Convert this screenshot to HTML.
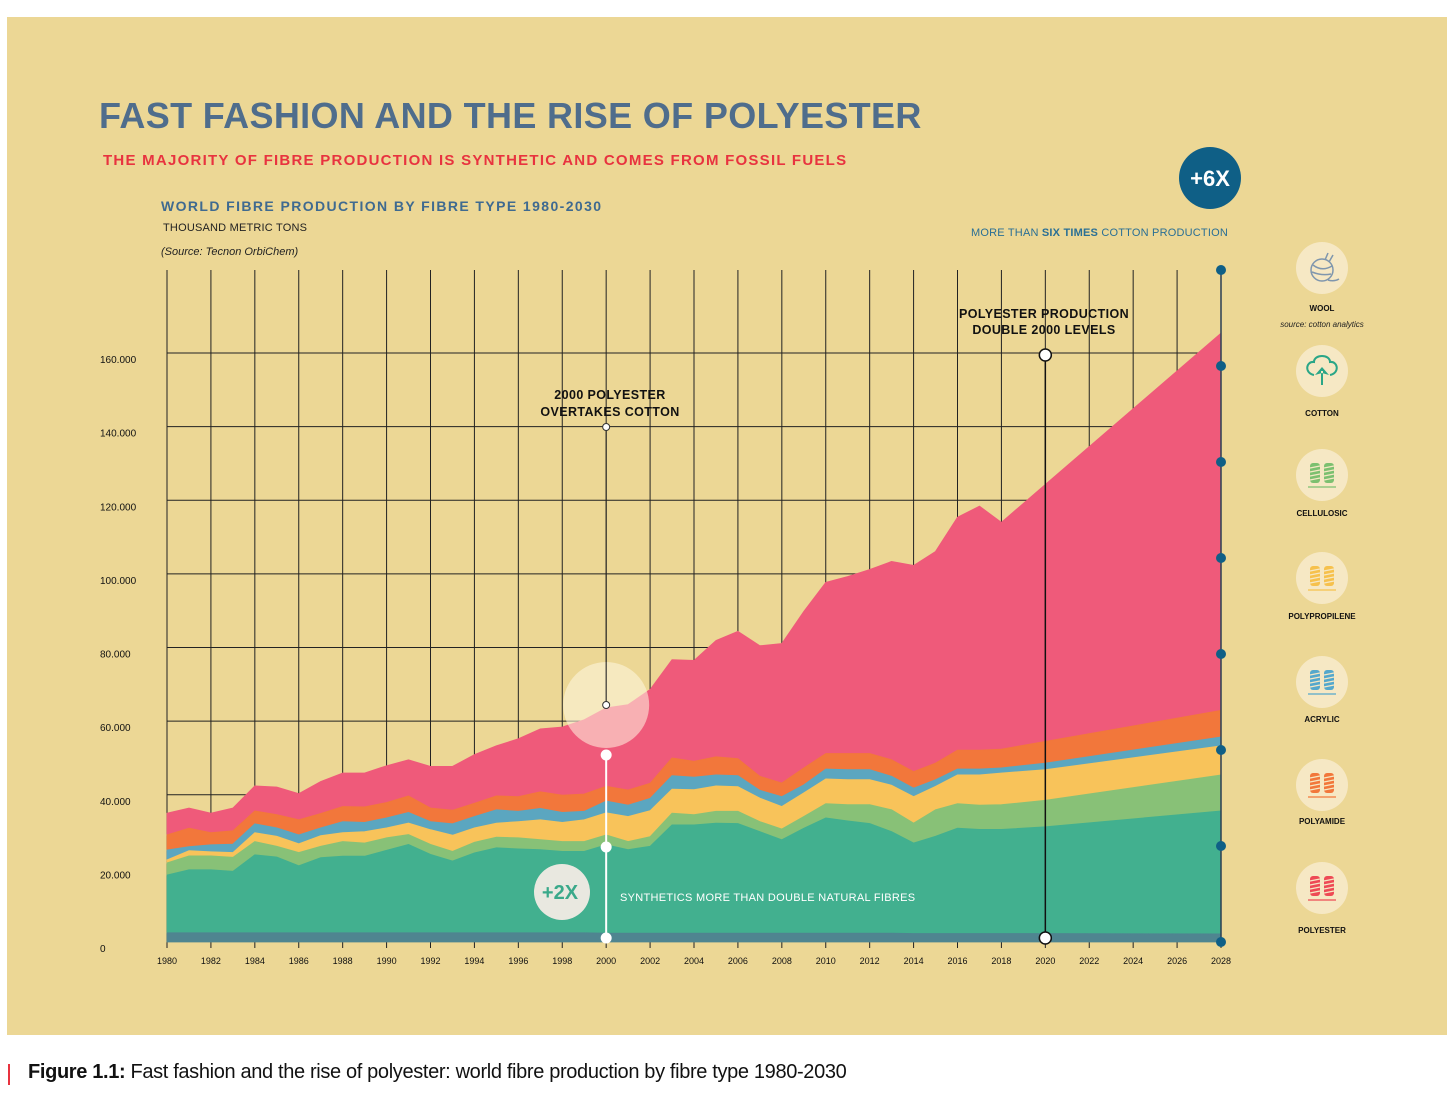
<!DOCTYPE html>
<html><head><meta charset="utf-8">
<style>
body{margin:0;width:1456px;height:1100px;background:#fff;font-family:"Liberation Sans",sans-serif;position:relative;overflow:hidden}
#panel{position:absolute;left:7px;top:17px;width:1440px;height:1018px;background:#ecd795}
.t{position:absolute;white-space:nowrap}
</style></head><body>
<div id="panel"></div>
<svg id="chart" width="1456" height="1100" style="position:absolute;left:0;top:0" font-family="Liberation Sans, sans-serif"></svg>
<div class="t" style="left:99px;top:95px;font-size:36px;font-weight:bold;color:#4f6d8c;letter-spacing:0.35px">FAST FASHION AND THE RISE OF POLYESTER</div>
<div class="t" style="left:103px;top:152px;font-size:15px;font-weight:bold;color:#e8333f;letter-spacing:1.25px">THE MAJORITY OF FIBRE PRODUCTION IS SYNTHETIC AND COMES FROM FOSSIL FUELS</div>
<div class="t" style="left:161px;top:198px;font-size:14px;font-weight:bold;color:#3f6a90;letter-spacing:1.4px">WORLD FIBRE PRODUCTION BY FIBRE TYPE 1980-2030</div>
<div class="t" style="left:163px;top:222px;font-size:11px;color:#222;letter-spacing:0.2px">THOUSAND METRIC TONS</div>
<div class="t" style="left:161px;top:246px;font-size:11px;font-style:italic;color:#222">(Source: Tecnon OrbiChem)</div>
<div class="t" style="right:228px;top:227px;font-size:11px;color:#2a6f95;letter-spacing:0.2px">MORE THAN <b>SIX TIMES</b> COTTON PRODUCTION</div>
<div class="t" style="left:8px;top:1064px;width:2px;height:21px;background:#e8333f"></div>
<div class="t" style="left:28px;top:1061px;font-size:20px;color:#111;letter-spacing:-0.35px"><b>Figure 1.1:</b> Fast fashion and the rise of polyester: world fibre production by fibre type 1980-2030</div>
<script>
// data: thousand metric tons, stacked tops
const years=[1980,1981,1982,1983,1984,1985,1986,1987,1988,1989,1990,1991,1992,1993,1994,1995,1996,1997,1998,1999,2000,2001,2002,2003,2004,2005,2006,2007,2008,2009,2010,2011,2012,2013,2014,2015,2016,2017,2018,2020,2028];
const woolTop=[2.5,2.5,2.5,2.5,2.5,2.5,2.5,2.5,2.5,2.5,2.5,2.5,2.5,2.5,2.5,2.5,2.5,2.5,2.5,2.5,2.4,2.4,2.4,2.4,2.4,2.4,2.4,2.4,2.4,2.4,2.4,2.4,2.4,2.4,2.3,2.3,2.3,2.3,2.3,2.3,2.2];
const cottonTop=[18.2,19.6,19.6,19.2,23.7,23.1,20.7,22.9,23.3,23.3,24.9,26.5,23.8,22.0,24.2,25.6,25.3,25.1,24.6,24.6,26.4,25.1,26.0,31.8,31.8,32.3,32.2,30.0,27.8,30.9,33.7,32.9,32.2,30.0,26.9,28.7,30.9,30.6,30.6,31.3,35.6];
const cellulosicTop=[21.5,23.4,23.4,23.0,27.3,26.0,24.3,26.0,27.3,26.9,28.3,29.2,26.5,24.6,27.1,28.5,28.3,27.8,27.3,27.3,29.1,27.3,28.6,35.0,34.6,35.5,35.5,32.7,30.7,34.1,37.6,37.3,37.3,35.9,32.3,35.9,37.6,37.2,37.3,38.5,45.4];
const polypropyleneTop=[22.3,24.8,24.5,24.3,29.7,28.7,26.7,28.9,29.7,30.0,31.0,32.3,30.5,29.0,31.0,32.3,32.7,33.2,32.5,33.2,35.1,34.1,35.7,41.5,41.4,42.4,42.2,39.1,36.8,40.5,44.3,44.1,44.1,42.6,39.5,42.3,45.4,45.4,45.9,46.8,53.3];
const acrylicTop=[25.0,25.9,26.4,26.6,32.1,31.0,29.1,31.0,32.7,32.5,33.7,35.2,32.7,32.1,34.1,35.9,35.5,36.3,35.2,35.5,38.3,37.2,39.0,45.2,44.8,45.4,45.2,41.2,39.5,42.7,47.0,46.8,46.8,45.0,41.8,44.1,47.0,47.0,47.3,48.6,55.7];
const polyamideTop=[29.1,30.9,29.7,30.2,35.6,34.6,33.2,34.9,36.8,36.7,37.9,39.7,36.4,35.8,37.7,39.7,39.5,40.8,39.9,40.2,42.3,41.3,43.1,50.0,49.1,50.3,49.8,45.0,43.2,47.3,51.2,51.2,51.2,49.5,46.3,48.6,52.1,52.1,52.4,54.5,62.9];
const polyesterTop=[35.0,36.4,35.0,36.4,42.4,42.1,40.3,43.6,45.9,45.9,47.9,49.5,47.7,47.7,50.9,53.3,55.2,57.9,58.4,60.4,63.6,64.5,68.6,76.7,76.5,81.9,84.4,80.5,81.1,89.8,97.7,99.3,101.2,103.4,102.3,106.1,115.4,118.4,114.0,124.3,165.4];
const yTicks=[0,20000,40000,60000,80000,100000,120000,140000,160000];
const yTickLabels=["0","20.000","40.000","60.000","80.000","100.000","120.000","140.000","160.000"];
const xTicks=[1980,1982,1984,1986,1988,1990,1992,1994,1996,1998,2000,2002,2004,2006,2008,2010,2012,2014,2016,2018,2020,2022,2024,2026,2028];
const legendLabels=["WOOL","COTTON","CELLULOSIC","POLYPROPILENE","ACRYLIC","POLYAMIDE","POLYESTER"];

const NS="http://www.w3.org/2000/svg";
const svg=document.getElementById('chart');
const X=y=>167+(y-1980)*(1221-167)/48;
const Y=v=>942-v*(942-353)/160000;
const Yk=v=>Y(v*1000);
function mk(tag,attrs,parent){const e=document.createElementNS(NS,tag);for(const k in attrs)e.setAttribute(k,attrs[k]);(parent||svg).appendChild(e);return e;}

const grid=mk('g',{});


yTicks.slice(1).forEach(v=>{const l=mk('line',{x1:167,x2:1221,y1:Y(v),y2:Y(v),stroke:'#222','stroke-width':1},grid);

});
xTicks.forEach(yr=>{const l=mk('line',{x1:X(yr),x2:X(yr),y1:270,y2:948,stroke:'#222','stroke-width':1},grid);

});

const layers=[
 ['polyester-area',polyamideTop,polyesterTop,'#ef5a7a'],
 ['polyamide-area',acrylicTop,polyamideTop,'#f2773b'],
 ['acrylic-area',polypropyleneTop,acrylicTop,'#5ba6c0'],
 ['polypropylene-area',cellulosicTop,polypropyleneTop,'#f8c35a'],
 ['cellulosic-area',cottonTop,cellulosicTop,'#88c177'],
 ['cotton-area',woolTop,cottonTop,'#42b08f'],
 ['wool-area',null,woolTop,'#4f8590']
];
layers.forEach(([name,bot,top,col])=>{
 let d='';
 years.forEach((yr,i)=>{d+=(i?'L':'M')+X(yr).toFixed(1)+','+Yk(top[i]).toFixed(1);});
 for(let i=years.length-1;i>=0;i--){d+='L'+X(years[i]).toFixed(1)+','+(bot?Yk(bot[i]):Y(0)).toFixed(1);}
 const p=mk('path',{d:d+'Z',fill:col,stroke:col,'stroke-width':0.8});
 
 
});

yTicks.forEach((v,i)=>{const t=mk('text',{x:100,y:Y(v)+10,'font-size':10,fill:'#111'});t.textContent=yTickLabels[i];

});
xTicks.forEach(yr=>{const t=mk('text',{x:X(yr),y:964,'font-size':9,fill:'#111','text-anchor':'middle'});t.textContent=yr;

});

const r28=mk('line',{x1:X(2028),x2:X(2028),y1:270,y2:942,stroke:'#2b3f55','stroke-width':1.5});


for(let k=0;k<8;k++){const c=mk('circle',{cx:X(2028),cy:270+k*96,r:5,fill:'#0f5f86'});

}

const x2k=X(2000);
const hl=mk('circle',{cx:x2k,cy:705,r:43,fill:'rgba(255,248,225,0.55)'});


const l1=mk('line',{x1:x2k,x2:x2k,y1:427,y2:705,stroke:'#222','stroke-width':1});


[427,705].forEach(cy=>{const c=mk('circle',{cx:x2k,cy:cy,r:3.5,fill:'#fff',stroke:'#333','stroke-width':1});

});
const l2=mk('line',{x1:x2k,x2:x2k,y1:755,y2:938,stroke:'#fff','stroke-width':2});


[755,847,938].forEach(cy=>{const c=mk('circle',{cx:x2k,cy:cy,r:5.5,fill:'#fff'});

});
const a1=mk('text',{x:610,y:399,'font-size':12.5,'font-weight':'bold','text-anchor':'middle',fill:'#111','letter-spacing':0.4});a1.textContent='2000 POLYESTER';


const a2=mk('text',{x:610,y:416,'font-size':12.5,'font-weight':'bold','text-anchor':'middle',fill:'#111','letter-spacing':0.4});a2.textContent='OVERTAKES COTTON';



const c2=mk('circle',{cx:562,cy:892,r:28,fill:'#e9e8e0'});


const t2=mk('text',{x:560,y:899,'font-size':20,'font-weight':'bold','text-anchor':'middle',fill:'#3aa98a'});t2.textContent='+2X';


const ts=mk('text',{x:620,y:901,'font-size':11,fill:'#fff','letter-spacing':0.3});ts.textContent='SYNTHETICS MORE THAN DOUBLE NATURAL FIBRES';



const x20=X(2020);
const l3=mk('line',{x1:x20,x2:x20,y1:355,y2:938,stroke:'#111','stroke-width':1.5});


[355,938].forEach(cy=>{const c=mk('circle',{cx:x20,cy:cy,r:6,fill:'#fff',stroke:'#111','stroke-width':1.5});

});
const b1=mk('text',{x:1044,y:318,'font-size':12.5,'font-weight':'bold','text-anchor':'middle',fill:'#111','letter-spacing':0.4});b1.textContent='POLYESTER PRODUCTION';


const b2=mk('text',{x:1044,y:334,'font-size':12.5,'font-weight':'bold','text-anchor':'middle',fill:'#111','letter-spacing':0.4});b2.textContent='DOUBLE 2000 LEVELS';



const c6=mk('circle',{cx:1210,cy:178,r:31,fill:'#0f5f86'});


const t6=mk('text',{x:1210,y:186,'font-size':22,'font-weight':'bold','text-anchor':'middle',fill:'#fff'});t6.textContent='+6X';



const legCy=[268,371,475,578,682,785,888];
const legLy=[311,416,516,619,722,824,933];
const legCol=['#7f96ad','#2aa687','#7cc070','#f6c14c','#55a8cc','#f2773b','#ee4a55'];
legendLabels.forEach((lab,i)=>{
 const g=mk('g',{});
 
 
 mk('circle',{cx:1322,cy:legCy[i],r:26,fill:'#f6e8c4'},g);
 const cx=1322,cy=legCy[i],col=legCol[i];
 if(i===0){mk('circle',{cx:cx,cy:cy+2,r:11,fill:'none',stroke:col,'stroke-width':1.5},g);
  mk('path',{d:`M${cx-9},${cy-3}Q${cx},${cy+4} ${cx+10},${cy-2}M${cx-10},${cy+4}Q${cx},${cy+8} ${cx+9},${cy+6}M${cx+3},${cy-8}L${cx+6},${cy-15}M${cx+7},${cy-6}L${cx+11},${cy-13}M${cx+6},${cy+12}Q${cx+12},${cy+14} ${cx+17},${cy+11}`,fill:'none',stroke:col,'stroke-width':1.5},g);}
 else if(i===1){mk('path',{d:`M${cx-8},${cy+4}C${cx-18},${cy+2} ${cx-16},${cy-10} ${cx-8},${cy-9}C${cx-8},${cy-17} ${cx+8},${cy-17} ${cx+8},${cy-9}C${cx+16},${cy-10} ${cx+18},${cy+2} ${cx+8},${cy+4}`,fill:'none',stroke:col,'stroke-width':2},g);
  mk('path',{d:`M${cx},${cy-4}L${cx+7},${cy+4}L${cx},${cy+2}L${cx-7},${cy+4}Z M${cx-1},${cy}L${cx-1},${cy+14}L${cx+1},${cy+14}L${cx+1},${cy}Z`,fill:col},g);}
 else{[-7,7].forEach(dx=>{mk('rect',{x:cx+dx-5,y:cy-12,width:10,height:20,rx:3,fill:col},g);
   for(let s=0;s<4;s++)mk('line',{x1:cx+dx-5,x2:cx+dx+5,y1:cy-7+s*4,y2:cy-9+s*4,stroke:'#f6e8c4','stroke-width':1.3},g);});
  mk('line',{x1:cx-14,x2:cx+14,y1:cy+12,y2:cy+12,stroke:col,'stroke-width':1.2},g);}
 const t=mk('text',{x:1322,y:legLy[i],'font-size':8,'font-weight':'bold','text-anchor':'middle',fill:'#111'},g);t.textContent=lab;
});
const sn=mk('text',{x:1322,y:327,'font-size':8,'font-style':'italic','text-anchor':'middle',fill:'#222'});sn.textContent='source: cotton analytics';


</script>
</body></html>
